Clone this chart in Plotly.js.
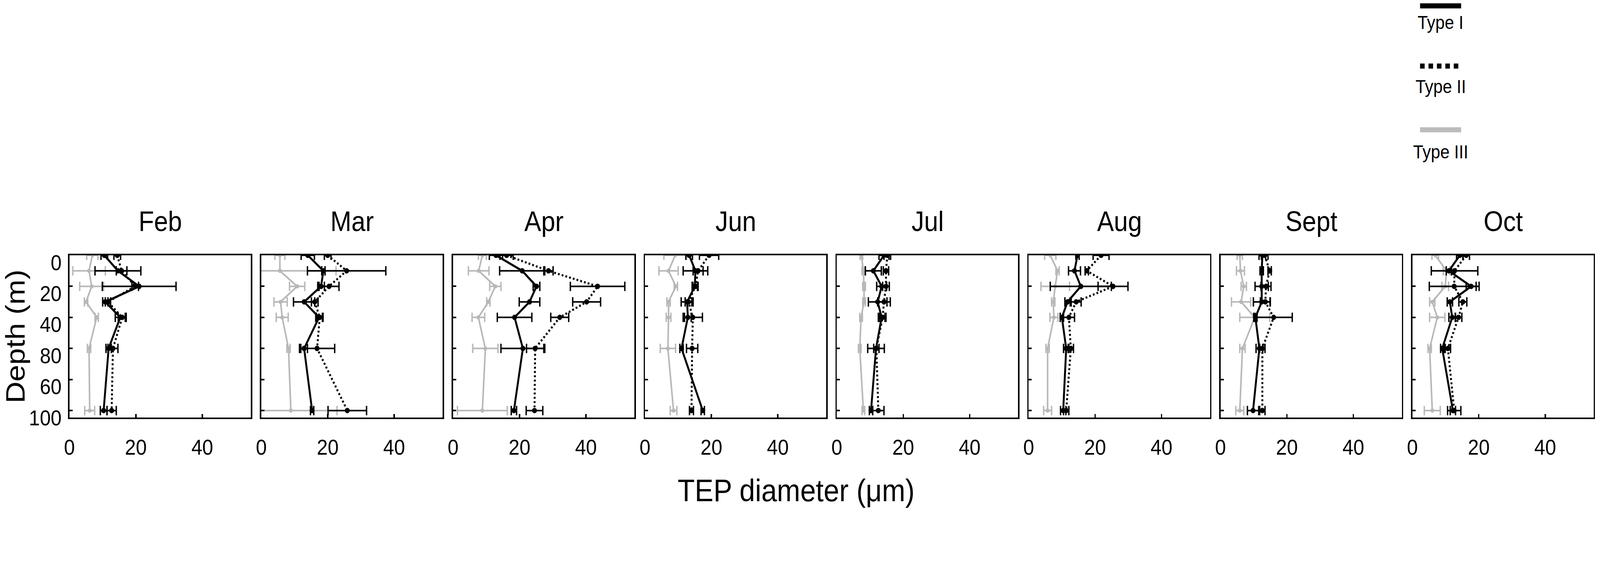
<!DOCTYPE html>
<html><head><meta charset="utf-8">
<script src="https://cdn.plot.ly/plotly-3.0.1.min.js"></script>
<style>html,body{margin:0;padding:0;background:#fff;overflow:hidden}</style>
</head><body><div id="chart" style="width:4562px;height:1458px"></div>
<script>
// ---------- data ----------
const months = ['Feb','Mar','Apr','Jun','Jul','Aug','Sept','Oct'];
const depths = [0,10,20,30,40,60,100];
const depthTickVals = [0,20,40,60,80,100];
const depthTickText = ['0','20','40','80','60','100'];
const diamTickVals = [0,20,40];
const typeNames = ['Type I','Type II','Type III'];

// Type I (solid black) mean diameter per month, by depth
const typeIMean = [
  [10.5,14.6,21.0,10.8,15.3,11.8,10.3],
  [14.0,18.7,18.0,12.9,17.4,12.9,15.3],
  [12.9,20.8,25.1,23.0,18.5,21.0,18.3],
  [13.3,15.2,15.0,12.7,12.9,11.0,17.4],
  [14.2,11.0,13.5,12.3,13.5,11.8,10.3],
  [14.7,13.8,15.7,11.7,10.0,11.3,10.4],
  [12.6,12.4,12.4,12.4,10.5,11.7,9.8],
  [14.3,11.0,17.7,11.3,12.0,9.0,12.2]
];
const typeIErr = [
  [1.0,6.9,11.1,0.8,1.5,0.8,1.0],
  [2.0,0.5,1.0,3.2,1.0,1.0,0.5],
  [2.0,6.8,1.0,3.1,5.2,6.6,0.8],
  [1.0,3.7,0.8,1.8,1.0,0.5,0.5],
  [1.5,2.4,1.5,2.8,1.0,2.5,0.5],
  [0.5,1.8,9.2,0.8,0.5,0.8,0.8],
  [1.0,0.5,2.0,2.5,0.5,1.0,1.7],
  [1.0,0.8,1.5,0.8,1.0,0.5,0.8]
];
// Type II (dotted black)
const typeIIMean = [
  [14.4,15.7,19.8,11.6,15.9,13.1,12.7],
  [20.0,25.7,20.4,16.1,17.6,16.8,25.9],
  [16.1,28.7,43.5,40.2,32.1,24.7,24.5],
  [19.3,16.0,15.2,13.1,14.4,14.2,14.0],
  [15.2,14.8,14.8,14.2,13.8,11.9,12.5],
  [21.8,17.5,25.4,14.3,12.1,12.7,11.3],
  [13.3,14.8,13.7,13.5,16.0,12.6,12.6],
  [16.2,12.7,12.6,15.2,13.9,10.7,12.6]
];
const typeIIErr = [
  [1.0,1.6,1.0,0.8,1.2,1.5,1.4],
  [1.0,11.8,3.0,1.0,1.0,5.3,5.8],
  [2.0,1.4,8.2,4.2,2.7,2.6,2.5],
  [2.9,1.5,0.8,1.0,2.9,1.7,0.6],
  [1.0,0.8,1.0,1.9,1.0,0.8,1.7],
  [2.4,0.5,4.5,1.5,1.7,0.8,0.8],
  [1.0,0.5,1.5,1.5,5.6,0.8,0.8],
  [1.0,7.0,7.5,1.2,1.0,0.8,2.0]
];
// Type III (grey)
const typeIIIMean = [
  [6.9,5.9,6.7,5.0,8.2,5.9,6.1],
  [5.6,5.6,10.8,5.8,6.3,8.2,8.9],
  [8.8,7.7,12.7,10.6,7.6,9.7,8.8],
  [9.1,7.1,9.3,7.1,7.1,6.9,8.6],
  [7.4,8.0,8.2,8.2,7.3,6.9,8.0],
  [6.5,8.7,8.0,7.4,7.6,5.7,5.7],
  [5.8,6.0,7.0,6.2,10.3,6.6,5.8],
  [6.9,10.3,9.9,6.0,7.5,5.2,6.0]
];
const typeIIIErr = [
  [1.7,4.9,3.6,0.5,0.5,0.5,1.5],
  [1.5,16.9,2.3,2.0,1.8,0.5,13.9],
  [1.2,3.1,1.7,0.5,1.9,3.8,7.5],
  [3.4,2.9,0.5,0.5,0.7,2.3,1.0],
  [0.4,0.4,0.4,0.4,0.4,0.4,0.4],
  [1.7,0.5,4.3,0.5,1.2,0.5,1.2],
  [0.8,1.2,0.8,2.9,4.5,0.8,1.2],
  [1.0,1.0,1.0,0.8,2.3,0.5,2.4]
];

// ---------- fonts ----------
const FONT = 'Liberation Sans, Arial, Helvetica, sans-serif';
const sz = {title: 72, tick: 56, legend: 48, ytitle: 77, xtitle: 80};

// ---------- layout geometry ----------
const W = 4562, H = 1458;
const mL = 198, mR = 18, mT = 653, mB = 390;
const plotW = W - mL - mR, plotH = H - mT - mB;
const panelW = 517, pitch = 547;
const BLACK = '#000000', GREY = '#b8b8b8';

const traces = [];
const layout = {
  width: W, height: H,
  margin: {l: mL, r: mR, t: mT, b: mB, pad: 0},
  paper_bgcolor: '#ffffff', plot_bgcolor: '#ffffff',
  showlegend: false,
  font: {family: FONT, color: '#000', size: 54},
  annotations: [], shapes: []
};

months.forEach((m, i) => {
  const xa = i === 0 ? 'x' : 'x' + (i + 1);
  const ya = i === 0 ? 'y' : 'y' + (i + 1);
  const x0 = (i * pitch) / plotW;
  const x1 = (i * pitch + panelW) / plotW;
  const axCommon = {showline: true, mirror: true, linecolor: BLACK, linewidth: 4,
    ticks: 'inside', ticklen: 9, tickwidth: 4, tickcolor: BLACK,
    showgrid: false, zeroline: false, fixedrange: true};
  layout['xaxis' + (i === 0 ? '' : i + 1)] = Object.assign({}, axCommon, {
    domain: [x0, x1], anchor: ya, range: [0, 54.6],
    tickmode: 'array', tickvals: diamTickVals,
    tickfont: {size: sz.tick, family: FONT}, ticklabelstandoff: 24
  });
  const yax = Object.assign({}, axCommon, {
    domain: [0, 1], anchor: xa, range: [104.5, 0],
    tickmode: 'array', tickvals: depthTickVals, ticktext: depthTickText,
    showticklabels: i === 0,
    tickfont: {size: sz.tick, family: FONT}, ticklabelstandoff: 7, ticklabelshift: -18
  });
  if (i === 0) {
    yax.title = {text: 'Depth (m)', font: {size: sz.ytitle, family: FONT}, standoff: 10};
  }
  layout['yaxis' + (i === 0 ? '' : i + 1)] = yax;

  const series = [
    {mean: typeIIIMean[i], err: typeIIIErr[i], color: GREY, dash: 'solid', lw: 4.5, ms: 11, name: typeNames[2]},
    {mean: typeIIMean[i], err: typeIIErr[i], color: BLACK, dash: '5px,6px', lw: 5.5, ms: 14, name: typeNames[1]},
    {mean: typeIMean[i], err: typeIErr[i], color: BLACK, dash: 'solid', lw: 5.5, ms: 14, name: typeNames[0]}
  ];
  series.forEach(s => {
    traces.push({
      type: 'scatter', mode: 'lines+markers', name: s.name,
      x: s.mean, y: depths, xaxis: xa, yaxis: ya,
      line: {color: s.color, width: s.lw, dash: s.dash},
      marker: {color: s.color, size: s.ms, symbol: 'circle'},
      error_x: {type: 'data', array: s.err, visible: true, color: s.color, thickness: 4, width: 12},
      cliponaxis: true, hoverinfo: 'skip'
    });
  });

  layout.annotations.push({
    text: m, xref: 'paper', yref: 'paper',
    x: (i * pitch + panelW / 2) / plotW, y: 1 + (mT - 566) / plotH,
    xanchor: 'center', yanchor: 'middle', showarrow: false,
    font: {size: sz.title, family: FONT, color: BLACK}
  });
});

// x-axis title
layout.annotations.push({
  text: 'TEP diameter (μm)', xref: 'paper', yref: 'paper',
  x: (2270 - mL) / plotW, y: -(1254 - (H - mB)) / plotH,
  xanchor: 'center', yanchor: 'middle', showarrow: false,
  font: {size: sz.xtitle, family: FONT, color: BLACK}
});

// legend (line above label, stacked)
const legLines = [15, 169, 332];
const legTexts = [57, 222, 388];
const legStyles = [
  {color: BLACK, dash: 'solid', width: 13},
  {color: BLACK, dash: '13px,11px', width: 13},
  {color: '#bcbcbc', dash: 'solid', width: 13}
];
const lx0 = (4049 - mL) / plotW, lx1 = (4166 - mL) / plotW;
typeNames.forEach((t, k) => {
  const yl = 1 + (mT - legLines[k]) / plotH;
  layout.shapes.push({type: 'line', xref: 'paper', yref: 'paper',
    x0: lx0, x1: lx1, y0: yl, y1: yl,
    line: {color: legStyles[k].color, width: legStyles[k].width, dash: legStyles[k].dash}});
  layout.annotations.push({text: t, xref: 'paper', yref: 'paper',
    x: (lx0 + lx1) / 2, y: 1 + (mT - legTexts[k]) / plotH,
    xanchor: 'center', yanchor: 'middle', showarrow: false,
    font: {size: sz.legend, family: FONT, color: BLACK}});
});

// fit the fixed-size figure to the actual viewport (fills it in both directions)
const el = document.getElementById('chart');
const vw = window.innerWidth || W, vh = window.innerHeight || H;
const sx = vw / W, sy = vh / H;
if (Math.abs(sx - 1) > 0.001 || Math.abs(sy - 1) > 0.001) {
  el.style.transformOrigin = '0 0';
  el.style.transform = 'scale(' + sx + ',' + sy + ')';
}

Plotly.newPlot('chart', traces, layout, {staticPlot: true, displayModeBar: false});
</script>
</body></html>
